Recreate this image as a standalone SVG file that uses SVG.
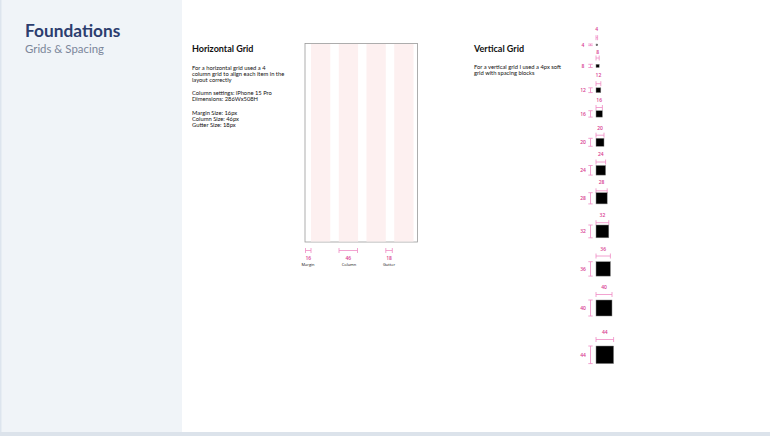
<svg xmlns="http://www.w3.org/2000/svg" width="770" height="436" viewBox="0 0 770 436">
<style>
.body{font-family:Lato,"Open Sans","DejaVu Sans",sans-serif;font-size:5.8px;fill:#111}
.ttl{font-family:Lato,"Open Sans","DejaVu Sans",sans-serif;font-size:9px;font-weight:700;fill:#111}
.pk{font-family:"Open Sans",Lato,"DejaVu Sans",sans-serif;font-size:5px;font-weight:600;fill:#d83a90;text-anchor:middle}
.cap{font-family:"Open Sans",Lato,"DejaVu Sans",sans-serif;font-size:4px;fill:#111;text-anchor:middle}
.dim{stroke:#ef8cc4;stroke-width:0.8;fill:none}
.col{fill:#fdf0f0}
.blk{fill:#000;stroke:#888;stroke-width:0.5}
</style>
<rect x="0" y="0" width="770" height="436" fill="#ffffff"/>
<g id="sidebar">
<rect x="0" y="0" width="182" height="436" fill="#f0f4f8"/>
<rect x="0" y="0" width="1.5" height="436" fill="#dde5ee"/>
<text x="25" y="37" font-family="Lato,'Open Sans','DejaVu Sans',sans-serif" font-size="17.3" font-weight="700" fill="#2c3d6e">Foundations</text>
<text x="25" y="53" font-family="Lato,'Open Sans','DejaVu Sans',sans-serif" font-size="11.4" fill="#7b869a">Grids &amp; Spacing</text>
</g>
<rect x="0" y="432" width="770" height="4" fill="#dce3eb"/>
<g id="horizontal-text">
<text class="ttl" x="192" y="52">Horizontal Grid</text>
<text class="body" x="192" y="69.5">For a horizontal grid used a 4</text>
<text class="body" x="192" y="75.5">column grid to align each item in the</text>
<text class="body" x="192" y="81.5">layout correctly</text>
<text class="body" x="192" y="95">Column settings: iPhone 15 Pro</text>
<text class="body" x="192" y="101">Dimensions:  286Wx508H</text>
<text class="body" x="192" y="115">Margin Size: 16px</text>
<text class="body" x="192" y="121">Column Size: 46px</text>
<text class="body" x="192" y="127">Gutter Size: 18px</text>
</g>
<g id="horizontal-grid">
<rect x="305" y="43.5" width="112.5" height="198.5" fill="#fff" stroke="#999" stroke-width="0.8"/>
<rect class="col" x="311" y="44" width="19.3" height="197.5"/>
<rect class="col" x="338.8" y="44" width="19.3" height="197.5"/>
<rect class="col" x="366.5" y="44" width="19.3" height="197.5"/>
<rect class="col" x="394.2" y="44" width="19.3" height="197.5"/>
</g>
<g id="grid-dimensions">
<path class="dim" d="M305.5 250.5H311M305.5 248V253M311 248V253"/>
<path class="dim" d="M339 250.5H357.5M339 248V253M357.5 248V253"/>
<path class="dim" d="M385.8 250.5H392.3M385.8 248V253M392.3 248V253"/>
<text class="pk" x="308.3" y="260">16</text>
<text class="cap" x="308" y="265.5">Margin</text>
<text class="pk" x="348.3" y="260">46</text>
<text class="cap" x="349" y="265.5">Column</text>
<text class="pk" x="389" y="260">18</text>
<text class="cap" x="389" y="265.5">Gutter</text>
</g>
<g id="vertical-text">
<text class="ttl" x="474" y="52">Vertical Grid</text>
<text class="body" x="474" y="69">For a vertical grid I used a 4px soft</text>
<text class="body" x="474" y="75">grid with spacing blocks</text>
</g>
<g id="block-4">
<path class="dim" d="M596 37.7H597.6M596 35.2V40.2M597.6 35.2V40.2M590.5 44V45.6M588.3 44H592.7M588.3 45.6H592.7"/>
<rect class="blk" x="596" y="44" width="1.6" height="1.6"/>
<text class="pk" x="596.8" y="31">4</text>
<text class="pk" x="583" y="46.6">4</text>
</g>
<g id="block-8">
<path class="dim" d="M596 58H599.2M596 55.5V60.5M599.2 55.5V60.5M590.5 64.3V67.5M588.3 64.3H592.7M588.3 67.5H592.7"/>
<rect class="blk" x="596" y="64.3" width="3.2" height="3.2"/>
<text class="pk" x="597.6" y="53.5">8</text>
<text class="pk" x="583" y="67.7">8</text>
</g>
<g id="block-12">
<path class="dim" d="M596 83.7H600.8M596 81.2V86.2M600.8 81.2V86.2M590.5 87.8V92.6M588.3 87.8H592.7M588.3 92.6H592.7"/>
<rect class="blk" x="596" y="87.8" width="4.8" height="4.8"/>
<text class="pk" x="598.4" y="76.5">12</text>
<text class="pk" x="583" y="92">12</text>
</g>
<g id="block-16">
<path class="dim" d="M596 107.5H602.4M596 105V110M602.4 105V110M590.5 110.7V117.1M588.3 110.7H592.7M588.3 117.1H592.7"/>
<rect class="blk" x="596" y="110.7" width="6.4" height="6.4"/>
<text class="pk" x="599.2" y="102">16</text>
<text class="pk" x="583" y="115.7">16</text>
</g>
<g id="block-20">
<path class="dim" d="M596 135.2H604M596 132.7V137.7M604 132.7V137.7M590.5 138.3V146.3M588.3 138.3H592.7M588.3 146.3H592.7"/>
<rect class="blk" x="596" y="138.3" width="8" height="8"/>
<text class="pk" x="600" y="129.5">20</text>
<text class="pk" x="583" y="144.1">20</text>
</g>
<g id="block-24">
<path class="dim" d="M596 162H605.6M596 159.5V164.5M605.6 159.5V164.5M590.5 165.5V175.1M588.3 165.5H592.7M588.3 175.1H592.7"/>
<rect class="blk" x="596" y="165.5" width="9.6" height="9.6"/>
<text class="pk" x="600.8" y="155.5">24</text>
<text class="pk" x="583" y="172.1">24</text>
</g>
<g id="block-28">
<path class="dim" d="M596 190.8H607.2M596 188.3V193.3M607.2 188.3V193.3M590.5 192.7V203.9M588.3 192.7H592.7M588.3 203.9H592.7"/>
<rect class="blk" x="596" y="192.7" width="11.2" height="11.2"/>
<text class="pk" x="601.6" y="184">28</text>
<text class="pk" x="583" y="200.1">28</text>
</g>
<g id="block-32">
<path class="dim" d="M596 222.7H608.8M596 220.2V225.2M608.8 220.2V225.2M590.5 225V237.8M588.3 225H592.7M588.3 237.8H592.7"/>
<rect class="blk" x="596" y="225" width="12.8" height="12.8"/>
<text class="pk" x="602.4" y="217">32</text>
<text class="pk" x="583" y="233.2">32</text>
</g>
<g id="block-36">
<path class="dim" d="M596 256H610.4M596 253.5V258.5M610.4 253.5V258.5M590.5 261.7V276.1M588.3 261.7H592.7M588.3 276.1H592.7"/>
<rect class="blk" x="596" y="261.7" width="14.4" height="14.4"/>
<text class="pk" x="603.2" y="250.5">36</text>
<text class="pk" x="583" y="270.7">36</text>
</g>
<g id="block-40">
<path class="dim" d="M596 294.5H612M596 292V297M612 292V297M590.5 300V316M588.3 300H592.7M588.3 316H592.7"/>
<rect class="blk" x="596" y="300" width="16" height="16"/>
<text class="pk" x="604" y="288.7">40</text>
<text class="pk" x="583" y="309.8">40</text>
</g>
<g id="block-44">
<path class="dim" d="M596 339.5H613.6M596 337V342M613.6 337V342M590.5 346V363.6M588.3 346H592.7M588.3 363.6H592.7"/>
<rect class="blk" x="596" y="346" width="17.6" height="17.6"/>
<text class="pk" x="604.8" y="333.7">44</text>
<text class="pk" x="583" y="356.6">44</text>
</g>
<g id="connectors"></g>
</svg>
